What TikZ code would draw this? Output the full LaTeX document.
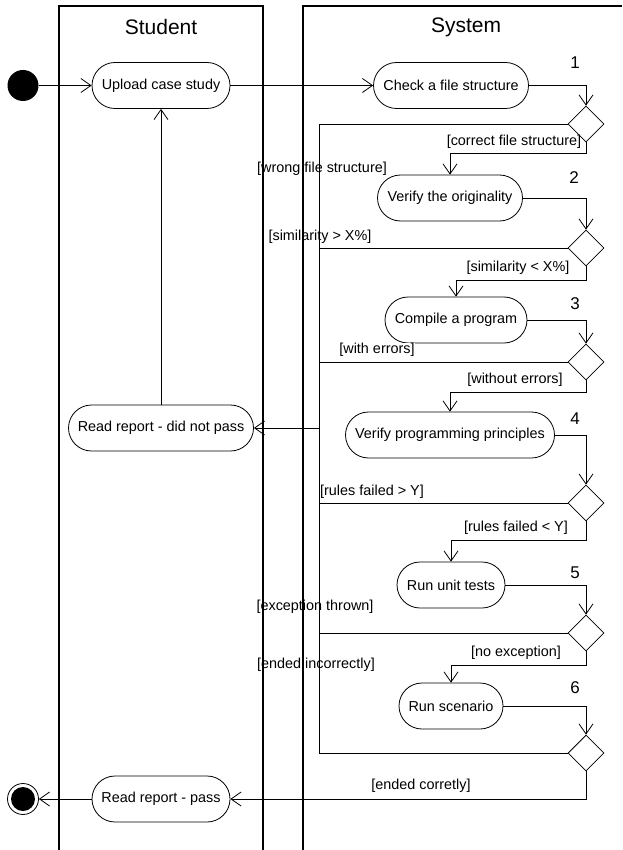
\documentclass[tikz,border=0pt]{standalone}
\usepackage{fontspec}
\setmainfont{Liberation Sans}
\usetikzlibrary{arrows.meta,shapes.geometric}
\tikzset{
  act/.style={draw,line width=0.8pt,rounded corners=23pt,minimum height=46pt,inner sep=0pt,font=\fontsize{14.4}{16}\selectfont},
  dec/.style={draw,diamond,line width=0.8pt,minimum width=36pt,minimum height=36pt,inner sep=0pt},
  lane/.style={line width=1.3pt},
  flow/.style={line width=0.8pt},
  arr/.style={flow,-{Straight Barb[length=10pt,width=14pt]}},
  guard/.style={inner sep=0pt,font=\fontsize{14.4}{16}\selectfont},
  num/.style={inner sep=0pt,font=\fontsize{17}{19}\selectfont},
  title/.style={inner sep=0pt,font=\fontsize{21}{24}\selectfont}
}
\begin{document}
\begin{tikzpicture}[x=1pt,y=-1pt]
\useasboundingbox (0,0) rectangle (622,850);
% swimlanes
\draw[lane] (59,850) -- (59,6) -- (263,6) -- (263,850);
\draw[lane] (303,850) -- (303,6) -- (622,6);
\node[title] (tStudent) at (161,27) {Student};
\node[title] (tSystem) at (466,27) {System};
% nodes
\node[circle,fill=black,minimum size=31pt,inner sep=0pt] (init) at (23,85.5) {};
\node[act,minimum width=138pt] (upload) at (161,85.5) {Upload case study};
\node[act,minimum width=155pt] (check) at (451,85.5) {Check a file structure};
\node[dec] (d1) at (586,124) {};
\node[act,minimum width=145pt] (orig) at (450,198) {Verify the originality};
\node[dec] (d2) at (586,248) {};
\node[act,minimum width=142pt] (compile) at (456,320) {Compile a program};
\node[dec] (d3) at (586,362) {};
\node[act,minimum width=209pt] (vpp) at (450,435) {Verify programming principles};
\node[dec] (d4) at (586,503) {};
\node[act,minimum width=108pt] (unit) at (451,585) {Run unit tests};
\node[dec] (d5) at (586,633) {};
\node[act,minimum width=104pt] (scen) at (451,706) {Run scenario};
\node[dec] (d6) at (586,753) {};
\node[act,minimum width=185pt] (fail) at (161,428) {Read report - did not pass};
\node[act,minimum width=138pt] (pass) at (161,799) {Read report - pass};
\node[circle,draw,line width=0.8pt,minimum size=31pt,inner sep=0pt] (final) at (23,799) {};
\node[circle,fill=black,minimum size=24pt,inner sep=0pt] (finalIn) at (23,799) {};
% numbers
\node[num] (n1) at (575,63) {1};
\node[num] (n2) at (574,178) {2};
\node[num] (n3) at (575,304) {3};
\node[num] (n4) at (575,419) {4};
\node[num] (n5) at (575,573) {5};
\node[num] (n6) at (575,688) {6};
% bus coordinates
\coordinate (busTop) at (319,124);
\coordinate (busBot) at (319,753);
% connectors
\draw[arr] (init) -- (upload);
\draw[arr] (upload) -- (check);
\draw[arr] (check.east) -| (d1.north);
\draw[arr] (d1.south) -- ++(0,11) -| (orig.north);
\draw[arr] (orig.east) -| (d2.north);
\draw[arr] (d2.south) -- ++(0,14) -| (compile.north);
\draw[arr] (compile.east) -| (d3.north);
\draw[arr] (d3.south) -- ++(0,12) -| (vpp.north);
\draw[arr] (vpp.east) -| (d4.north);
\draw[arr] (d4.south) -- ++(0,19) -| (unit.north);
\draw[arr] (unit.east) -| (d5.north);
\draw[arr] (d5.south) -- ++(0,14) -| (scen.north);
\draw[arr] (scen.east) -| (d6.north);
\draw[flow] (d1.west) -- (busTop) -- (busBot) -- (d6.west);
\draw[flow] (d2.west) -- (d2.west -| busTop);
\draw[flow] (d3.west) -- (d3.west -| busTop);
\draw[flow] (d4.west) -- (d4.west -| busTop);
\draw[flow] (d5.west) -- (d5.west -| busTop);
\draw[arr] (busTop |- fail) -- (fail.east);
\draw[arr] (fail) -- (upload);
\draw[arr] (d6.south) |- (pass.east);
\draw[arr] (pass) -- (final);
% guards
\node[guard] (g1) at (514,142) {[correct file structure]};
\node[guard] (g2) at (322,169) {[wrong file structure]};
\node[guard] (g3) at (320,237) {[similarity > X\%]};
\node[guard] (g4) at (518,268) {[similarity < X\%]};
\node[guard,fill=white] (g5) at (377,350) {[with errors]};
\node[guard] (g6) at (515,380) {[without errors]};
\node[guard] (g7) at (372,492) {[rules failed > Y]};
\node[guard] (g8) at (516,528) {[rules failed < Y]};
\node[guard] (g9) at (315,607) {[exception thrown]};
\node[guard] (g10) at (516,653) {[no exception]};
\node[guard] (g11) at (316,665) {[ended incorrectly]};
\node[guard] (g12) at (421,786) {[ended corretly]};
\end{tikzpicture}
\end{document}
